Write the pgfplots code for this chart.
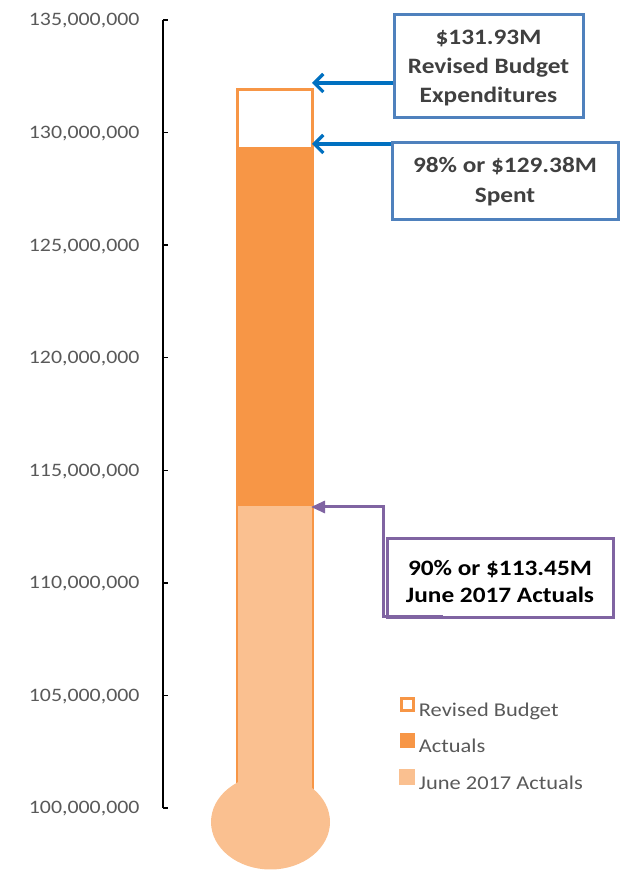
\documentclass[border=0pt]{standalone}
\usepackage{pgfplots}
\pgfplotsset{compat=1.18}
\usetikzlibrary{arrows.meta}
\usepackage{fontspec}
\setmainfont{Carlito}[FakeStretch=1.15]
\definecolor{actorange}{HTML}{F79646}
\definecolor{juneorange}{HTML}{FAC090}
\definecolor{tickgray}{HTML}{595959}
\definecolor{boxblue}{HTML}{4F81BD}
\definecolor{arrowblue}{HTML}{0070C0}
\definecolor{calloutpurple}{HTML}{8064A2}
\definecolor{textdark}{HTML}{404040}
\begin{document}
\begin{tikzpicture}
\path[use as bounding box] (0pt,0pt) rectangle (623pt,870pt);
\begin{axis}[
  at={(163pt,62pt)}, anchor=south west,
  scale only axis, width=452pt, height=788pt,
  xmin=-1.5, xmax=4.55, ymin=100e6, ymax=135e6,
  axis x line=none, axis y line=left,
  y axis line style={-, line width=1.8pt, black},
  ytick={100e6,105e6,110e6,115e6,120e6,125e6,130e6,135e6},
  tick align=inside, major tick length=5pt,
  ytick style={black, line width=1.4pt},
  scaled y ticks=false,
  yticklabel style={font=\fontsize{19}{22}\selectfont, text=tickgray,
    /pgf/number format/fixed, /pgf/number format/1000 sep={,},
    /pgf/number format/assume math mode=true, xshift=-20pt, yshift=-1pt},
  ybar, bar width=1, bar shift=0pt,
  legend style={at={(0.522,0.141)}, anchor=north west, draw=none, fill=none,
    font=\fontsize{19.5}{22}\selectfont, text=tickgray, row sep=13pt, inner sep=0pt,
    nodes={inner xsep=4pt}},
  legend cell align=left,
]
\addplot[draw=actorange, line width=3pt, fill=white,
  legend image code/.code={\draw[actorange, line width=3pt, fill=white] (1.5pt,0pt) rectangle (13.5pt,12pt);}]
  coordinates {(0,131.93e6)};
\addlegendentry{Revised Budget}
\addplot[draw=none, fill=actorange,
  legend image code/.code={\fill[actorange] (0pt,-1.5pt) rectangle (15pt,13.5pt);}]
  coordinates {(0,129.38e6)};
\addlegendentry{Actuals}
\addplot[draw=actorange, line width=0.8pt, fill=juneorange,
  legend image code/.code={\fill[juneorange] (0pt,-1.5pt) rectangle (15pt,13.5pt);}]
  coordinates {(0,113.45e6)};
\addlegendentry{June 2017 Actuals}
\end{axis}
% bulb
\fill[juneorange] (270.5pt,48pt) ellipse [x radius=59.5pt, y radius=47.5pt];
% blue callouts
\draw[boxblue, line width=3pt, fill=white] (394pt,752pt) rectangle (583pt,855pt);
\node[align=center, text=textdark, font=\fontsize{22}{29}\selectfont\bfseries] at (488.5pt,802pt) {\$131.93M\\Revised Budget\\Expenditures};
\draw[arrowblue, line width=3.2pt, -{Straight Barb[length=9pt,width=18pt]}] (393pt,787pt) -- (312pt,787pt);
\draw[boxblue, line width=3pt, fill=white] (392pt,650pt) rectangle (618pt,727pt);
\node[align=center, text=textdark, font=\fontsize{22}{30}\selectfont\bfseries] at (505pt,688.5pt) {98\% or \$129.38M\\Spent};
\draw[arrowblue, line width=3.2pt, -{Straight Barb[length=9pt,width=18pt]}] (391pt,726pt) -- (312pt,726pt);
% purple callout
\draw[calloutpurple, line width=3pt, fill=white] (387pt,252pt) rectangle (613pt,331pt);
\draw[calloutpurple, line width=3pt, {Triangle[length=14pt,width=12pt]}-] (311pt,363pt) -- (383pt,363pt) -- (383pt,253pt) -- (443pt,253pt);
\node[align=center, text=black, font=\fontsize{22}{27}\selectfont\bfseries] at (500pt,288.5pt) {90\% or \$113.45M\\June 2017 Actuals};
\end{tikzpicture}
\end{document}
